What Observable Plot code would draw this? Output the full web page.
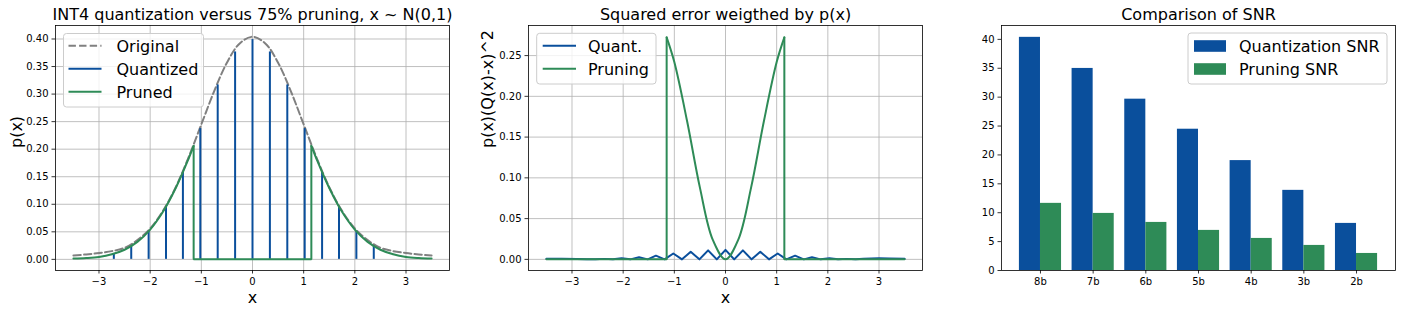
<!DOCTYPE html>
<html><head><meta charset="utf-8">
<script src="https://cdn.jsdelivr.net/npm/d3@7"></script>
<script src="https://cdn.jsdelivr.net/npm/@observablehq/plot@0.6"></script>
<style>
body{margin:0;background:#fff;font-family:"DejaVu Sans",sans-serif;}
#wrap{position:relative;width:1401px;height:313px;overflow:hidden;}
#wrap > svg{position:absolute;top:0;}
</style></head><body><div id="wrap"></div>
<script>
// ---------- data ----------
// Panel 1: original density (dashed), quantized stems, pruned density
const origX = [-3.5,-3.25,-3,-2.75,-2.5,-2.25,-2,-1.75,-1.5,-1.25,-1,-0.75,-0.5,-0.25,0,0.25,0.5,0.75,1,1.25,1.5,1.75,2,2.25,2.5,2.75,3,3.25,3.5];
const origP = [0.007,0.009,0.0115,0.015,0.021,0.035,0.056,0.088,0.131,0.185,0.245,0.305,0.357,0.392,0.404,0.392,0.357,0.305,0.245,0.185,0.131,0.088,0.056,0.035,0.021,0.015,0.0115,0.009,0.007];
const levelX = [-2.71,-2.37,-2.03,-1.69,-1.36,-1.02,-0.68,-0.34,0,0.34,0.68,1.02,1.36,1.69,2.03,2.37];
const levelP = [0.0102,0.0241,0.0508,0.0957,0.1582,0.2374,0.3166,0.3765,0.3989,0.3765,0.3166,0.2374,0.1582,0.0957,0.0508,0.0241];
const prunedLeftX = [-3.5,-3.25,-3,-2.75,-2.5,-2.25,-2,-1.75,-1.5,-1.25,-1.15];
const prunedLeftP = [0.0015,0.0025,0.0045,0.0092,0.0175,0.0317,0.054,0.0863,0.1295,0.1826,0.2059];
const prunedMidX = [-1.15,-1.15,1.15,1.15];
const prunedMidP = [0.2059,0,0,0.2059];
const prunedRightX = [1.15,1.25,1.5,1.75,2,2.25,2.5,2.75,3,3.25,3.5];
const prunedRightP = [0.2059,0.1826,0.1295,0.0863,0.054,0.0317,0.0175,0.0092,0.0045,0.0025,0.0015];

// Panel 2: weighted squared error
const quantErrX = [-3.5,-3.2,-2.9,-2.71,-2.54,-2.37,-2.2,-2.03,-1.86,-1.69,-1.52,-1.36,-1.19,-1.02,-0.85,-0.68,-0.51,-0.34,-0.17,0,0.17,0.34,0.51,0.68,0.85,1.02,1.19,1.36,1.53,1.69,1.86,2.03,2.2,2.37,2.54,2.7,3.0,3.2,3.5];
const quantErrY = [0.0007,0.0008,0.0004,0.0002,0,0.0006,0,0.0013,0,0.0026,0,0.0045,0,0.0072,0,0.0093,0,0.011,0,0.0116,0,0.011,0,0.0093,0,0.0072,0,0.0045,0,0.0026,0,0.0013,0,0.0006,0,0.0009,0.0013,0.0011,0.0009];
const pruneErrLeftX = [-3.5,-1.15,-1.15];
const pruneErrLeftY = [0,0,0.2723];
const pruneErrMidX = [-1.15,-1,-0.75,-0.5,-0.25,0,0.25,0.5,0.75,1,1.15];
const pruneErrMidY = [0.2723,0.242,0.1694,0.088,0.0242,0,0.0242,0.088,0.1694,0.242,0.2723];
const pruneErrRightX = [1.15,1.15,3.5];
const pruneErrRightY = [0.2723,0,0];

// Panel 3: SNR comparison
const categories = ["8b","7b","6b","5b","4b","3b","2b"];
const quantSNR = [40.35,34.97,29.65,24.45,19.02,13.87,8.15];
const pruneSNR = [11.62,9.88,8.32,6.94,5.55,4.34,2.95];

// tick labels
const xTicks12 = [-3,-2,-1,0,1,2,3];
const yTicks1 = [0,0.05,0.10,0.15,0.20,0.25,0.30,0.35,0.40];
const yTicks2 = [0,0.05,0.10,0.15,0.20,0.25];
const yTicks3 = [0,5,10,15,20,25,30,35,40];

// ---------- styling ----------
const FONT = '"DejaVu Sans", sans-serif';
const BLUE = "#0a4f9c", GREEN = "#2e8b57", GRAY = "#808080";
const pts = (xs, ys) => xs.map((x, i) => ({x, y: ys[i]}));
const minus = d => (d < 0 ? "\u2212" + Math.abs(d) : String(d));
const wrap = document.getElementById("wrap");

function axes(xTicks, yTicks, xFmt, yFmt) {
  return [
    Plot.axisX(xTicks, {tickSize: 3.5, tickPadding: 3.5, strokeWidth: 0.8, tickFormat: xFmt, label: null, fontSize: 10}),
    Plot.axisY(yTicks, {tickSize: 3.5, tickPadding: 3.5, strokeWidth: 0.8, tickFormat: yFmt, label: null, fontSize: 10})
  ];
}
function title(t) {
  return Plot.text([t], {text: d => d, frameAnchor: "top", dy: -5.5, lineAnchor: "bottom", fontSize: 16, fill: "black"});
}
function legend(svg, box, rows) {
  const g = d3.select(svg).append("g").attr("text-anchor", "start");
  g.append("rect").attr("x", box.x).attr("y", box.y).attr("width", box.w).attr("height", box.h)
    .attr("rx", 3).attr("fill", "white").attr("fill-opacity", 0.8).attr("stroke", "#cccccc").attr("stroke-width", 1);
  rows.forEach((r, i) => {
    const cy = box.y0 + i * 23;
    if (r.patch) {
      g.append("rect").attr("x", box.sx1).attr("y", cy - 5.8).attr("width", box.sx2 - box.sx1).attr("height", 11.6).attr("fill", r.color);
    } else {
      g.append("line").attr("x1", box.sx1).attr("x2", box.sx2).attr("y1", cy).attr("y2", cy)
        .attr("stroke", r.color).attr("stroke-width", 2).attr("stroke-dasharray", r.dash || null);
    }
    g.append("text").attr("x", box.tx).attr("y", cy + 6).attr("font-size", 16).attr("font-family", FONT)
      .attr("text-anchor", "start").attr("fill", "black").text(r.label);
  });
}
function place(svg, left) { svg.style.left = left + "px"; wrap.appendChild(svg); }

const common = {width: 467, height: 313, marginTop: 25, marginBottom: 43,
  style: {fontFamily: FONT, fontSize: "10px", background: "transparent", overflow: "visible", color: "black"}};

// ---------- panel 1 ----------
const p1 = Plot.plot({
  ...common, marginLeft: 55, marginRight: 18,
  x: {domain: [-3.85, 3.85]}, y: {domain: [-0.0202, 0.4245]},
  marks: [
    Plot.gridX(xTicks12, {stroke: "#b0b0b0", strokeOpacity: 1, strokeWidth: 0.8}),
    Plot.gridY(yTicks1, {stroke: "#b0b0b0", strokeOpacity: 1, strokeWidth: 0.8}),
    Plot.line(pts(origX, origP), {x: "x", y: "y", stroke: GRAY, strokeWidth: 2, strokeDasharray: "7.4,3.2", curve: "catmull-rom"}),
    Plot.ruleX(pts(levelX, levelP), {x: "x", y1: 0, y2: "y", stroke: BLUE, strokeWidth: 2}),
    Plot.line(pts(prunedLeftX, prunedLeftP), {x: "x", y: "y", stroke: GREEN, strokeWidth: 2, curve: "catmull-rom", strokeLinecap: "round"}),
    Plot.line(pts(prunedMidX, prunedMidP), {x: "x", y: "y", stroke: GREEN, strokeWidth: 2, strokeLinejoin: "miter"}),
    Plot.line(pts(prunedRightX, prunedRightP), {x: "x", y: "y", stroke: GREEN, strokeWidth: 2, curve: "catmull-rom", strokeLinecap: "round"}),
    Plot.frame({stroke: "black", strokeWidth: 0.8}),
    ...axes(xTicks12, yTicks1, minus, d => d.toFixed(2)),
    title("INT4 quantization versus 75% pruning, x ~ N(0,1)"),
    Plot.text(["x"], {text: d => d, frameAnchor: "bottom", dy: 27, lineAnchor: "middle", fontSize: 16, fill: "black"}),
    Plot.text(["p(x)"], {text: d => d, frameAnchor: "left", dx: -39, rotate: -90, lineAnchor: "middle", fontSize: 16, fill: "black"})
  ]
});
place(p1, 0);
legend(p1, {x: 63.5, y: 33.5, w: 140, h: 73.5, y0: 45.8, sx1: 68.5, sx2: 101.5, tx: 116.5}, [
  {label: "Original", color: GRAY, dash: "7.4,3.2"},
  {label: "Quantized", color: BLUE},
  {label: "Pruned", color: GREEN}
]);

// ---------- panel 2 ----------
const p2 = Plot.plot({
  ...common, marginLeft: 61, marginRight: 12,
  x: {domain: [-3.85, 3.85]}, y: {domain: [-0.01366, 0.2869]},
  marks: [
    Plot.gridX(xTicks12, {stroke: "#b0b0b0", strokeOpacity: 1, strokeWidth: 0.8}),
    Plot.gridY(yTicks2, {stroke: "#b0b0b0", strokeOpacity: 1, strokeWidth: 0.8}),
    Plot.line(pts(quantErrX, quantErrY), {x: "x", y: "y", stroke: BLUE, strokeWidth: 2}),
    Plot.line(pts(pruneErrLeftX, pruneErrLeftY), {x: "x", y: "y", stroke: GREEN, strokeWidth: 2}),
    Plot.line(pts(pruneErrMidX, pruneErrMidY), {x: "x", y: "y", stroke: GREEN, strokeWidth: 2, curve: "catmull-rom"}),
    Plot.line(pts(pruneErrRightX, pruneErrRightY), {x: "x", y: "y", stroke: GREEN, strokeWidth: 2}),
    Plot.frame({stroke: "black", strokeWidth: 0.8}),
    ...axes(xTicks12, yTicks2, minus, d => d.toFixed(2)),
    title("Squared error weigthed by p(x)"),
    Plot.text(["x"], {text: d => d, frameAnchor: "bottom", dy: 27, lineAnchor: "middle", fontSize: 16, fill: "black"}),
    Plot.text(["p(x)(Q(x)-x)^2"], {text: d => d, frameAnchor: "left", dx: -41, rotate: -90, lineAnchor: "middle", fontSize: 16, fill: "black"})
  ]
});
place(p2, 467);
legend(p2, {x: 69.7, y: 33.3, w: 119.3, h: 50.7, y0: 45.8, sx1: 75.7, sx2: 109, tx: 121}, [
  {label: "Quant.", color: BLUE},
  {label: "Pruning", color: GREEN}
]);

// ---------- panel 3 ----------
const bars = categories.map((c, i) => ({i, c, q: quantSNR[i], p: pruneSNR[i]}));
const p3 = Plot.plot({
  ...common, marginLeft: 67, marginRight: 6,
  x: {domain: [-0.74, 6.74]}, y: {domain: [0, 42.4]},
  marks: [
    Plot.rectY(bars, {x1: d => d.i - 0.4, x2: d => d.i, y1: 0, y2: "q", fill: BLUE}),
    Plot.rectY(bars, {x1: d => d.i, x2: d => d.i + 0.4, y1: 0, y2: "p", fill: GREEN}),
    Plot.frame({stroke: "black", strokeWidth: 0.8}),
    ...axes(d3.range(categories.length), yTicks3, i => categories[i], d => String(d)),
    title("Comparison of SNR")
  ]
});
place(p3, 934);
legend(p3, {x: 254, y: 33, w: 199, h: 51, y0: 46, sx1: 260, sx2: 292, tx: 305}, [
  {label: "Quantization SNR", color: BLUE, patch: true},
  {label: "Pruning SNR", color: GREEN, patch: true}
]);
</script></body></html>
